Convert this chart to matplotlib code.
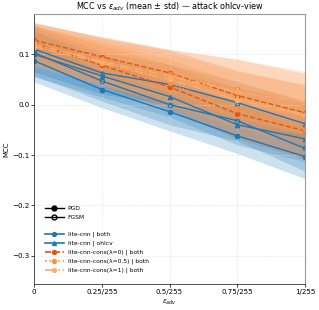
import numpy as np
import matplotlib.pyplot as plt
from matplotlib.lines import Line2D

#--------#
# INPUTS #
#--------#

# epsilon steps (in units of 1/255)
eps_steps = [0, 0.25, 0.5, 0.75, 1.0]
eps_labels = ['0', '0.25/255', '0.5/255', '0.75/255', '1/255']

# mean MCC per model / attack
both_pgd   = [0.087, 0.030, -0.014, -0.062, -0.103]
both_fgsm  = [0.103, 0.047, 0.000, -0.032, -0.087]
ohlcv_pgd  = [0.100, 0.057, 0.016, -0.040, -0.068]
ohlcv_fgsm = [0.110, 0.063, 0.040, 0.004, -0.038]
c0_pgd     = [0.122, 0.078, 0.035, -0.018, -0.052]
c0_fgsm    = [0.128, 0.095, 0.063, 0.018, -0.016]
c05_pgd    = [0.118, 0.082, 0.042, -0.008, -0.050]
c05_fgsm   = [0.125, 0.090, 0.060, 0.032, 0.002]
c1_pgd     = [0.115, 0.083, 0.050, 0.010, -0.020]
c1_fgsm    = [0.120, 0.086, 0.057, 0.025, 0.004]

# std per model / attack
both_pgd_sd   = [0.042, 0.036, 0.038, 0.035, 0.044]
both_fgsm_sd  = [0.045, 0.040, 0.040, 0.040, 0.045]
ohlcv_pgd_sd  = [0.045, 0.042, 0.040, 0.040, 0.045]
ohlcv_fgsm_sd = [0.045, 0.042, 0.040, 0.042, 0.045]
c0_pgd_sd     = [0.035, 0.040, 0.045, 0.050, 0.055]
c0_fgsm_sd    = [0.035, 0.038, 0.045, 0.050, 0.055]
c05_pgd_sd    = [0.038, 0.042, 0.048, 0.052, 0.058]
c05_fgsm_sd   = [0.037, 0.045, 0.050, 0.058, 0.060]
c1_pgd_sd     = [0.040, 0.045, 0.050, 0.055, 0.060]
c1_fgsm_sd    = [0.042, 0.048, 0.052, 0.065, 0.062]

#----------------#
# Visualizations #
#----------------#

x = np.array(eps_steps) / 255.0

blue = '#1f77b4'
models = [
    # label, color, linestyle, marker, pgd, pgd_sd, fgsm, fgsm_sd
    ('lite-cnn | both', blue, '-', 'o', both_pgd, both_pgd_sd, both_fgsm, both_fgsm_sd),
    ('lite-cnn | ohlcv', blue, '-', '^', ohlcv_pgd, ohlcv_pgd_sd, ohlcv_fgsm, ohlcv_fgsm_sd),
    ('lite-cnn-cons(λ=0) | both', '#e6550d', '--', 'o', c0_pgd, c0_pgd_sd, c0_fgsm, c0_fgsm_sd),
    ('lite-cnn-cons(λ=0.5) | both', '#fd8d3c', ':', 'o', c05_pgd, c05_pgd_sd, c05_fgsm, c05_fgsm_sd),
    ('lite-cnn-cons(λ=1) | both', '#fdae6b', '-.', 'o', c1_pgd, c1_pgd_sd, c1_fgsm, c1_fgsm_sd),
]

fig, ax = plt.subplots(1, 1, figsize=(3.19, 3.10), dpi=100)
fig.patch.set_facecolor('white')

for label, col, ls, mk, pgd, pgd_sd, fgsm, fgsm_sd in models:
    for mean, sd, filled in [(pgd, pgd_sd, True), (fgsm, fgsm_sd, False)]:
        mean = np.array(mean)
        sd = np.array(sd)
        ax.fill_between(x, mean - sd, mean + sd, color=col, alpha=0.22, linewidth=0)
        ax.plot(x, mean, color=col, linestyle=ls, linewidth=1.0, marker=mk,
                markersize=3.2, markeredgewidth=0.8,
                markerfacecolor=col if filled else 'none', markeredgecolor=col)

ax.set_xlim(0, 1 / 255.0)
ax.set_ylim(-0.356, 0.18)
ax.set_xticks(x)
ax.set_xticklabels(eps_labels)
ax.set_yticks([-0.3, -0.2, -0.1, 0.0, 0.1])
ax.tick_params(labelsize=5.1, length=2, width=0.5, pad=1.5)
ax.grid(linestyle='--', linewidth=0.4, color='#dddddd', alpha=0.8)

for side in ['left', 'bottom']:
    ax.spines[side].set_color('#333333')
    ax.spines[side].set_linewidth(0.6)
for side in ['right', 'top']:
    ax.spines[side].set_color('#999999')
    ax.spines[side].set_linewidth(0.8)

ax.set_title(r'MCC vs $\epsilon_{adv}$ (mean $\pm$ std) — attack ohlcv-view', fontsize=5.8, pad=3)
ax.set_xlabel(r'$\epsilon_{adv}$', fontsize=5, labelpad=2)
ax.set_ylabel('MCC', fontsize=5, labelpad=2)

# legend: attack style first, then models
handles = [Line2D([], [], color='k', marker='o', markersize=3.5, linewidth=1.0),
           Line2D([], [], color='k', marker='o', markersize=3.5, linewidth=1.0,
                  markerfacecolor='none'),
           Line2D([], [], color='none')]
labels = ['PGD', 'FGSM', '']
for label, col, ls, mk, *_ in models:
    handles.append(Line2D([], [], color=col, linestyle=ls, marker=mk,
                          markersize=2.8, linewidth=1.2))
    labels.append(label)

ax.legend(handles, labels, loc='lower left', bbox_to_anchor=(0.02, 0.02),
          fontsize=4.3, frameon=False, handlelength=3.2, labelspacing=0.55,
          handletextpad=0.6)

plt.subplots_adjust(left=0.107, right=0.956, top=0.955, bottom=0.084)
fig.savefig('out.png', dpi=100)
